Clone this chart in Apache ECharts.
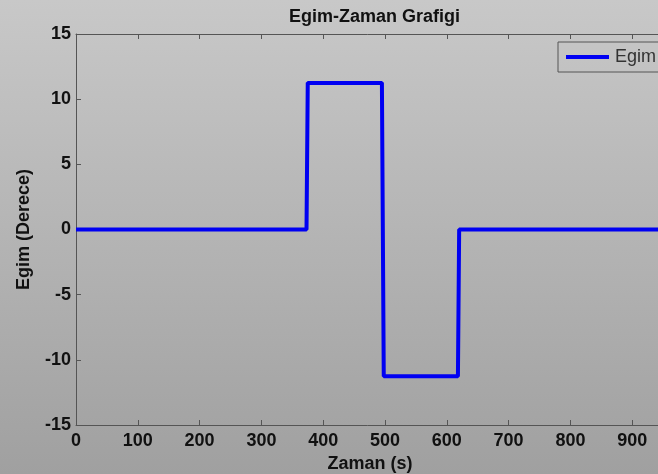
<!DOCTYPE html>
<html>
<head>
<meta charset="utf-8">
<script src="https://cdn.jsdelivr.net/npm/echarts@6/dist/echarts.min.js"></script>
<style>
html,body{margin:0;padding:0;}
#chart{width:658px;height:474px;}
</style>
</head>
<body>
<div id="chart"></div>
<script>
var titleText = 'Egim-Zaman Grafigi';
var xName = 'Zaman (s)';
var yName = 'Egim (Derece)';
var seriesName = 'Egim';
var timeValues = [0, 373, 375, 495, 498, 618, 620, 1000];
var slopeValues = [0, 0, 11.25, 11.25, -11.25, -11.25, 0, 0];

var data = timeValues.map(function (t, i) { return [t, slopeValues[i]]; });
var font = 'Liberation Sans, Arial, sans-serif';
var chart = echarts.init(document.getElementById('chart'));
chart.setOption({
  animation: false,
  backgroundColor: {
    type: 'linear', x: 0, y: 0, x2: 0, y2: 1,
    colorStops: [{offset: 0, color: '#c8c8c8'}, {offset: 1, color: '#a0a0a0'}]
  },
  title: {
    text: titleText, left: 284, top: 3,
    textStyle: {fontFamily: font, fontSize: 18, fontWeight: 'bold', color: '#111'}
  },
  legend: {
    left: 558, top: 42,
    data: [{name: seriesName, icon: 'rect'}],
    itemWidth: 43, itemHeight: 4,
    padding: [6, 8, 6, 8],
    borderColor: '#555', borderWidth: 1,
    textStyle: {fontFamily: font, fontSize: 18, color: '#333', padding: [0, 0, 0, 1]}
  },
  grid: {left: 76, right: -36, top: 34, bottom: 49, containLabel: false, outerBoundsMode: 'none'},
  xAxis: [{
    type: 'value', min: 0, max: 1000, interval: 100,
    name: xName, nameLocation: 'middle', nameGap: 29,
    nameTextStyle: {fontFamily: font, fontSize: 18, fontWeight: 'bold', color: '#111', padding: [0, 30, 0, 0]},
    axisLine: {show: true, onZero: false, lineStyle: {color: '#555', width: 1}},
    axisTick: {show: true, inside: true, length: 5, lineStyle: {color: '#555'}},
    axisLabel: {fontFamily: font, fontSize: 18, fontWeight: 'bold', color: '#111', margin: 7,
      formatter: function (v) { return String(v); }},
    splitLine: {show: false}
  }, {
    type: 'value', min: 0, max: 1000, interval: 100, position: 'top',
    axisLine: {show: true, onZero: false, lineStyle: {color: '#555', width: 1}},
    axisTick: {show: true, inside: true, length: 5, lineStyle: {color: '#555'}},
    axisLabel: {show: false},
    splitLine: {show: false}
  }],
  yAxis: {
    type: 'value', min: -15, max: 15, interval: 5,
    name: yName, nameLocation: 'middle', nameGap: 43, nameRotate: 90,
    nameTextStyle: {fontFamily: font, fontSize: 18, fontWeight: 'bold', color: '#111'},
    axisLine: {show: true, onZero: false, lineStyle: {color: '#555', width: 1}},
    axisTick: {show: true, inside: true, length: 5, lineStyle: {color: '#555'}},
    axisLabel: {fontFamily: font, fontSize: 18, fontWeight: 'bold', color: '#111', margin: 5},
    splitLine: {show: false}
  },
  series: [{
    name: seriesName, type: 'line', data: data,
    showSymbol: false, symbol: 'none',
    lineStyle: {color: '#0000f2', width: 4},
    itemStyle: {color: '#0000f2'}
  }]
});
</script>
</body>
</html>
